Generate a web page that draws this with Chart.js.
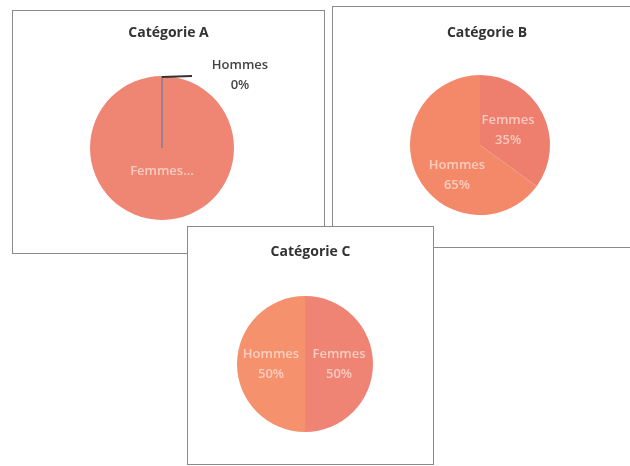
<!DOCTYPE html>
<html><head><meta charset="utf-8">
<script src="https://cdn.jsdelivr.net/npm/chart.js@4.4.1/dist/chart.umd.min.js"></script>
<style>
html,body{margin:0;padding:0;background:#fff;width:630px;height:466px;overflow:hidden;}
body{position:relative;}
.box{position:absolute;background:#fff;border:1px solid #8a8a8a;box-sizing:border-box;}
.box canvas{position:absolute;left:0;top:0;}
</style></head><body>
<div class="box" style="left:12px;top:10px;width:313px;height:244px;"><canvas id="cA" width="311" height="242"></canvas></div>
<div class="box" style="left:332px;top:6px;width:310px;height:242px;"><canvas id="cB" width="308" height="240"></canvas></div>
<div class="box" style="left:187px;top:226px;width:247px;height:239px;"><canvas id="cC" width="245" height="237"></canvas></div>
<script>
const categories = ['Femmes', 'Hommes'];
const titles = ['Catégorie A', 'Catégorie B', 'Catégorie C'];
const valuesA = [100, 0];
const valuesB = [35, 65];
const valuesC = [50, 50];

// label placement styles per chart (not data)
const labelStyles = {
  cA: [{ f: 0.33, truncate: true }, { outside: true, leader: 30, dx: 78, dy: -1 }],
  cB: [{ f: 0.45, shift: 0 }, { f: 0.54, shift: -25.5 }],
  cC: [{ f: 0.5, shift: 0 }, { f: 0.5, shift: 0 }]
};

const sliceLabels = {
  id: 'sliceLabels',
  afterDatasetsDraw(chart) {
    const ctx = chart.ctx;
    const meta = chart.getDatasetMeta(0);
    const ds = chart.data.datasets[0];
    const total = ds.data.reduce((a, b) => a + b, 0);
    const styles = labelStyles[chart.canvas.id];
    meta.data.forEach((arc, i) => {
      const p = arc.getProps(['x', 'y', 'startAngle', 'endAngle', 'outerRadius'], true);
      const s = styles[i];
      const mid = (p.startAngle + p.endAngle) / 2 + (s.shift || 0) * Math.PI / 180;
      const pct = Math.round(ds.data[i] / total * 100) + '%';
      const name = chart.data.labels[i];
      const lines = s.truncate ? [name + '...'] : [name, pct];
      let tx, ty, color, weight;
      ctx.save();
      if (s.outside) {
        const ox = p.x + Math.cos(mid) * p.outerRadius;
        const oy = p.y + Math.sin(mid) * p.outerRadius;
        ctx.strokeStyle = '#7c8194';
        ctx.lineWidth = 1.5;
        ctx.beginPath(); ctx.moveTo(p.x, p.y); ctx.lineTo(ox, oy); ctx.stroke();
        ctx.strokeStyle = '#333';
        ctx.lineWidth = 2;
        ctx.beginPath(); ctx.moveTo(ox, oy + 1); ctx.lineTo(ox + s.leader, oy); ctx.stroke();
        tx = ox + s.dx; ty = oy + s.dy; color = '#444'; weight = '600 ';
      } else {
        const r = p.outerRadius * s.f;
        tx = p.x + Math.cos(mid) * r; ty = p.y + Math.sin(mid) * r;
        color = 'rgba(255,230,220,0.72)'; weight = '600 ';
      }
      ctx.font = weight + '13px "Open Sans", sans-serif';
      ctx.fillStyle = color;
      ctx.textAlign = 'center';
      ctx.textBaseline = 'middle';
      const lh = 20;
      const y0 = ty - (lines.length - 1) * lh / 2;
      lines.forEach((t, k) => ctx.fillText(t, tx, y0 + k * lh));
      ctx.restore();
    });
  }
};

const widenTitle = {
  id: 'widenTitle',
  afterLayout(chart) {
    const t = chart.titleBlock;
    if (t) { t.left = 0; t.right = chart.width; t.width = chart.width; }
  }
};

function makePie(id, title, values, colors, pad, titlePad) {
  new Chart(document.getElementById(id), {
    type: 'pie',
    data: {
      labels: categories,
      datasets: [{ data: values, backgroundColor: colors, borderWidth: 0 }]
    },
    options: {
      responsive: false,
      animation: false,
      layout: { padding: pad },
      plugins: {
        legend: { display: false },
        tooltip: { enabled: false },
        title: {
          display: true, text: title, color: '#333',
          font: { family: '"Open Sans", sans-serif', size: 14, weight: 'bold', lineHeight: 1.2 },
          padding: titlePad
        }
      }
    },
    plugins: [sliceLabels, widenTitle]
  });
}

makePie('cA', titles[0], valuesA, ['#EF8573', '#F48C68'],
  { left: 0, right: 13, top: 0, bottom: 33 }, { top: 13.6, bottom: 34.6 });

makePie('cB', titles[1], valuesB, ['#EE7F6E', '#F4896A'],
  { left: 0, right: 14, top: 0, bottom: 32 }, { top: 17.6, bottom: 33.6 });

makePie('cC', titles[2], valuesC, ['#EF8474', '#F5916C'],
  { left: 0, right: 11, top: 0, bottom: 32 }, { top: 16.6, bottom: 35.6 });
</script>
</body></html>
